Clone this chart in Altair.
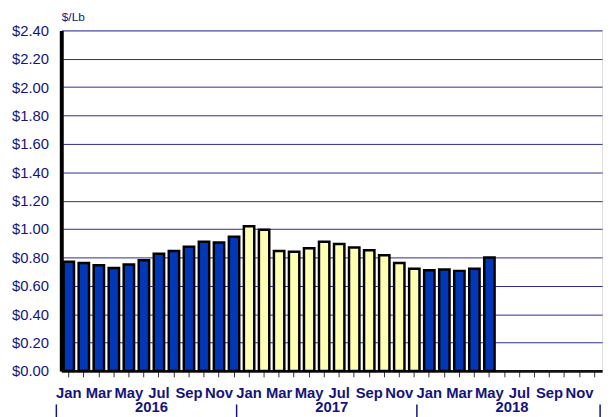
import altair as alt
import pandas as pd

months = ["Jan", "Feb", "Mar", "Apr", "May", "Jun", "Jul", "Aug", "Sep", "Oct", "Nov", "Dec"]
years = ["2016", "2017", "2018"]

price_2016 = [0.77, 0.76, 0.745, 0.725, 0.75, 0.78, 0.825, 0.845, 0.875, 0.91, 0.905, 0.945]
price_2017 = [1.02, 0.995, 0.845, 0.84, 0.865, 0.91, 0.895, 0.87, 0.85, 0.815, 0.76, 0.72]
price_2018 = [0.71, 0.715, 0.705, 0.72, 0.80]

y_ticks = [0.0, 0.2, 0.4, 0.6, 0.8, 1.0, 1.2, 1.4, 1.6, 1.8, 2.0, 2.2, 2.4]
shown_months = ["Jan", "Mar", "May", "Jul", "Sep", "Nov"]

NAVY = "#14147a"
FONT = "Liberation Sans"

rows = []
for yr, vals in zip(years, [price_2016, price_2017, price_2018]):
    for m, v in zip(months, vals):
        rows.append({"key": f"{m} {yr}", "year": yr, "price": v})
df = pd.DataFrame(rows)

domain = [f"{m} {yr}" for yr in years for m in months]
xscale = alt.Scale(domain=domain, paddingInner=0, paddingOuter=0)

label_expr = (
    "indexof(" + str(shown_months) + ", split(datum.value, ' ')[0]) >= 0"
    " ? split(datum.value, ' ')[0] : ''"
)

x_axis = alt.Axis(
    labelAngle=0,
    labelExpr=label_expr,
    labelOverlap=False,
    labelFont=FONT,
    labelFontSize=15,
    labelFontWeight="bold",
    labelColor=NAVY,
    labelPadding=9,
    ticks=True,
    tickSize=6,
    tickColor="#333333",
    tickWidth=1,
    domainColor="#111111",
    domainWidth=3,
    grid=False,
)

bars = alt.Chart(df).mark_bar(
    width=alt.RelativeBandSize(0.69), stroke="black", strokeWidth=2.5
).encode(
    x=alt.X("key:N", scale=xscale, sort=domain, title=None, axis=x_axis),
    y=alt.Y(
        "price:Q",
        scale=alt.Scale(domain=[0, 2.4], nice=False),
        axis=alt.Axis(
            values=y_ticks,
            format="$.2f",
            title="$/Lb",
            titleAngle=0,
            titleX=0,
            titleY=-10,
            titleAlign="left",
            titleBaseline="alphabetic",
            titleFont=FONT,
            titleFontSize=12,
            titleFontWeight="normal",
            titleColor=NAVY,
            labelFont=FONT,
            labelFontSize=15,
            labelColor=NAVY,
            labelPadding=13,
            tickSize=0,
            domainColor="black",
            domainWidth=4,
            grid=True,
            gridColor="#2a2a90",
            gridWidth=1,
        ),
    ),
    color=alt.Color(
        "year:N",
        scale=alt.Scale(domain=years, range=["#0038b8", "#ffffb3", "#0038b8"]),
        legend=None,
    ),
)

year_df = pd.DataFrame({"key": [f"Jul {y}" for y in years], "year": years})
year_text = alt.Chart(year_df).mark_text(
    font=FONT, fontSize=15, fontWeight="bold", color=NAVY, baseline="alphabetic", align="center"
).encode(
    x=alt.X("key:N", scale=xscale, sort=domain, bandPosition=0, title=None, axis=x_axis),
    y=alt.value(387),
    text="year:N",
)

sep_df = pd.DataFrame({"key": [f"Jan {y}" for y in years]})
seps = alt.Chart(sep_df).mark_rule(color=NAVY, strokeWidth=1.5, xOffset=-5).encode(
    x=alt.X("key:N", scale=xscale, sort=domain, bandPosition=0, title=None, axis=x_axis),
    y=alt.value(379),
    y2=alt.value(396),
)
end_df = pd.DataFrame({"key": ["Dec 2018"]})
end_sep = alt.Chart(end_df).mark_rule(color=NAVY, strokeWidth=1.5, xOffset=-2).encode(
    x=alt.X("key:N", scale=xscale, sort=domain, bandPosition=1, title=None, axis=x_axis),
    y=alt.value(379),
    y2=alt.value(396),
)

chart = alt.layer(bars, year_text, seps, end_sep).properties(
    width=548,
    height=345,
    autosize="none",
    padding={"left": 54, "top": 20, "right": 6, "bottom": 44},
).configure_view(stroke="#555566", strokeWidth=2).configure(background="white")

chart.save("out.html", embed_options={"renderer": "svg", "actions": False})
